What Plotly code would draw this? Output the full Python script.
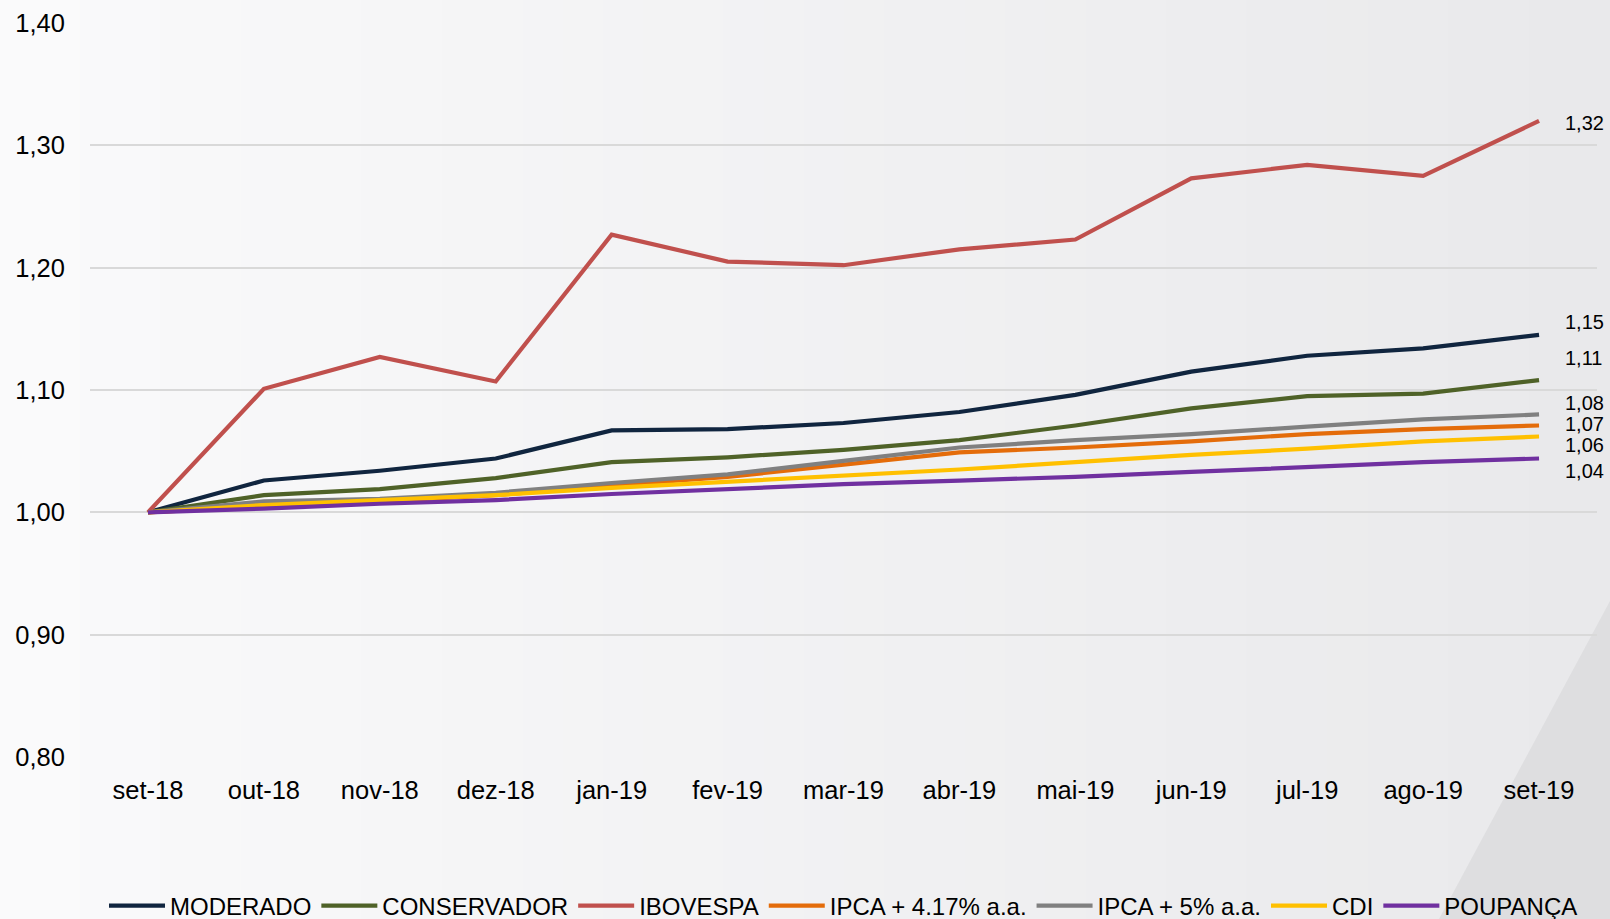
import plotly.graph_objects as go

# --- DADOS ---

meses = ["set-18", "out-18", "nov-18", "dez-18", "jan-19", "fev-19", "mar-19",
         "abr-19", "mai-19", "jun-19", "jul-19", "ago-19", "set-19"]

moderado = [1.000, 1.026, 1.034, 1.044, 1.067, 1.068, 1.073, 1.082, 1.096, 1.115, 1.128, 1.134, 1.145]
conservador = [1.000, 1.014, 1.019, 1.028, 1.041, 1.045, 1.051, 1.059, 1.071, 1.085, 1.095, 1.097, 1.108]
ibovespa = [1.000, 1.101, 1.127, 1.107, 1.227, 1.205, 1.202, 1.215, 1.223, 1.273, 1.284, 1.275, 1.320]
ipca_417 = [1.000, 1.005, 1.009, 1.014, 1.022, 1.029, 1.039, 1.049, 1.053, 1.058, 1.064, 1.068, 1.071]
ipca_5 = [1.000, 1.009, 1.011, 1.016, 1.024, 1.031, 1.042, 1.053, 1.059, 1.064, 1.070, 1.076, 1.080]
cdi = [1.000, 1.006, 1.010, 1.014, 1.020, 1.025, 1.030, 1.035, 1.041, 1.047, 1.052, 1.058, 1.062]
poupanca = [1.000, 1.003, 1.007, 1.010, 1.015, 1.019, 1.023, 1.026, 1.029, 1.033, 1.037, 1.041, 1.044]

series = [
    ("MODERADO", moderado, "#10253F"),
    ("CONSERVADOR", conservador, "#4F6228"),
    ("IBOVESPA", ibovespa, "#C0504D"),
    ("IPCA + 4.17% a.a.", ipca_417, "#E46C0A"),
    ("IPCA + 5% a.a.", ipca_5, "#808080"),
    ("CDI", cdi, "#FFC000"),
    ("POUPANÇA", poupanca, "#7030A0"),
]

# deslocamento vertical (px) dos rótulos finais, como no original
label_shift = {"MODERADO": 13, "CONSERVADOR": 22, "IBOVESPA": -2,
               "IPCA + 4.17% a.a.": 1, "IPCA + 5% a.a.": 11, "CDI": -9, "POUPANÇA": -12}

# --- FIGURA ---

W, H = 1610, 919
ML, MR, MT, MB = 90, 13, 23, 162
PW, PH = W - ML - MR, H - MT - MB


def px_x(p):
    return (p - ML) / PW


def px_y(p):
    return (H - MB - p) / PH


fig = go.Figure()

for nome, valores, cor in series:
    fig.add_trace(go.Scatter(
        x=meses, y=valores, name=nome, mode="lines",
        line=dict(color=cor, width=4.2),
    ))
    fig.add_annotation(
        x=meses[-1], y=valores[-1], text=f"{valores[-1]:.2f}".replace(".", ","),
        showarrow=False, xanchor="left", xshift=24, yshift=label_shift[nome],
        font=dict(size=20, color="#000000", family="Liberation Sans, Arial"),
    )

# fundo em degradê cinza claro
n = 40
c0, c1 = (250, 250, 251), (233, 233, 235)
for i in range(n):
    t = i / (n - 1)
    c = tuple(round(a + (b - a) * t) for a, b in zip(c0, c1))
    fig.add_shape(
        type="rect", xref="paper", yref="paper", layer="below",
        x0=px_x(i * W / n - 1), x1=px_x((i + 1) * W / n + 1),
        y0=px_y(H), y1=px_y(0),
        fillcolor=f"rgb{c}", line_width=0,
    )
# faixa diagonal mais escura no canto inferior direito
fig.add_shape(
    type="path", xref="paper", yref="paper", layer="below",
    path=f"M {px_x(1610)} {px_y(601)} L {px_x(1439)} {px_y(919)} L {px_x(1610)} {px_y(919)} Z",
    fillcolor="rgb(222,222,224)", line_width=0,
)

fig.update_layout(
    width=W, height=H,
    margin=dict(l=ML, r=MR, t=MT, b=MB, autoexpand=False),
    paper_bgcolor="#f8f8f9",
    plot_bgcolor="rgba(0,0,0,0)",
    separators=",.",
    font=dict(family="Liberation Sans, Arial", color="#000000"),
    showlegend=True,
    legend=dict(
        orientation="h", x=0.5, xanchor="center", y=-0.203, yanchor="middle",
        font=dict(size=24, family="Liberation Sans, Arial"),
        itemwidth=56,
        bgcolor="rgba(0,0,0,0)", traceorder="normal",
    ),
)
fig.update_xaxes(
    type="category", range=[-0.5, 12.5], showgrid=False, showline=False, zeroline=False,
    ticks="outside", ticklen=10, tickcolor="rgba(0,0,0,0)",
    tickfont=dict(size=25.5),
)
fig.update_yaxes(
    range=[0.8, 1.4], tick0=0.8, dtick=0.1, tickformat=".2f",
    showgrid=True, gridcolor="#d9d9d9", gridwidth=1.5, zeroline=False, showline=False,
    ticks="outside", ticklen=19, tickcolor="rgba(0,0,0,0)",
    tickfont=dict(size=25.5),
)

fig.write_html("out.html", config={"displayModeBar": False},
               post_script="document.body.style.margin='0';")
